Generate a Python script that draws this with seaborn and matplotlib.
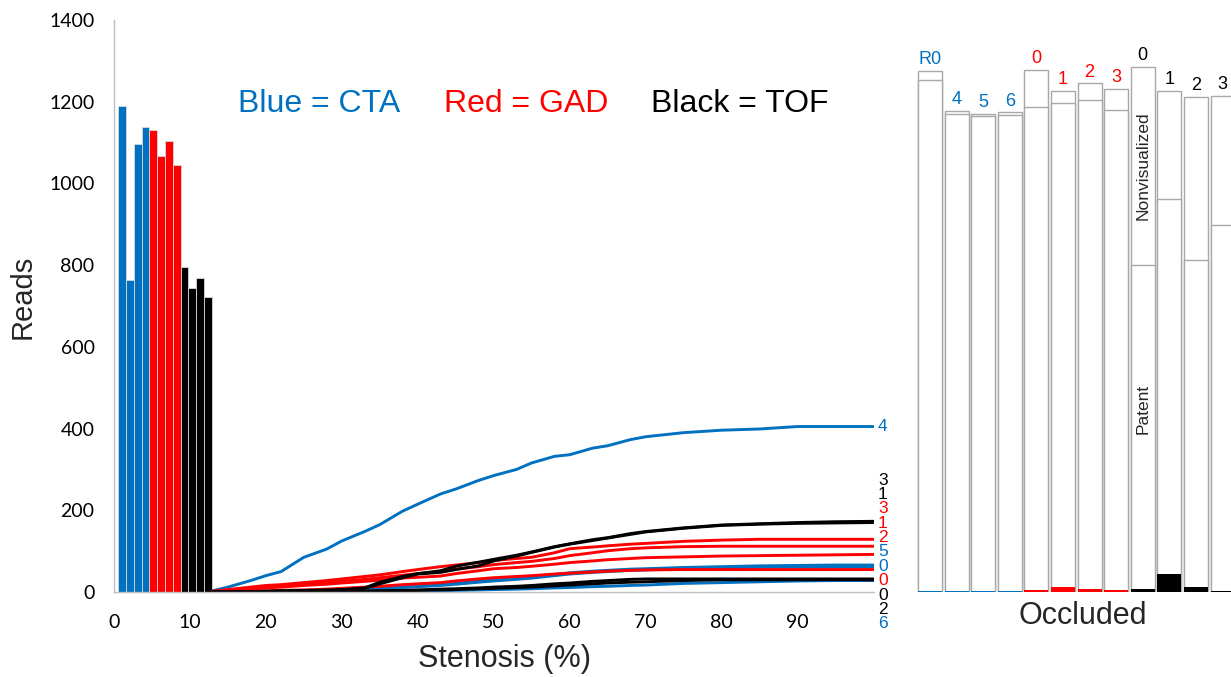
import numpy as np
import pandas as pd
import matplotlib
matplotlib.use("Agg")
import matplotlib.pyplot as plt
import seaborn as sns

# ---------------- data ----------------
BLUE, RED, BLACK = "#0070C0", "#FF0000", "#000000"
group_colors = {"CTA": BLUE, "GAD": RED, "TOF": BLACK}

bar_groups = ["CTA"] * 4 + ["GAD"] * 4 + ["TOF"] * 4
bar_reads = [1190, 764, 1096, 1138, 1130, 1068, 1103, 1046, 796, 744, 768, 721]

stenosis = [13, 15, 18, 20, 22, 25, 28, 30, 33, 35, 38, 40, 43, 45, 48, 50,
            53, 55, 58, 60, 63, 65, 68, 70, 75, 80, 85, 90, 95, 100]
cta4 = [3, 12, 28, 40, 50, 85, 105, 125, 148, 165, 198, 215, 240, 252, 273, 285,
        300, 316, 332, 336, 352, 358, 373, 380, 390, 396, 399, 405, 405, 405]
cta5 = [0, 0, 1, 1, 2, 3, 4, 5, 7, 9, 13, 16, 19, 22, 27, 30,
        34, 37, 43, 47, 51, 53, 56, 57, 60, 62, 64, 65, 66, 66]
cta0 = [0, 0, 0, 1, 1, 2, 3, 4, 6, 8, 11, 13, 16, 19, 24, 27,
        31, 34, 40, 44, 48, 50, 53, 54, 57, 59, 61, 62, 62, 62]
cta6 = [0, 0, 0, 0, 0, 0, 0, 1, 1, 1, 2, 2, 3, 4, 5, 6,
        7, 8, 10, 11, 13, 14, 16, 17, 21, 23, 25, 27, 28, 28]
gad3 = [2, 6, 12, 16, 18, 23, 28, 32, 38, 42, 50, 55, 62, 66, 72, 77,
        82, 85, 96, 106, 110, 113, 117, 119, 124, 127, 129, 129, 129, 129]
gad1 = [1, 4, 9, 12, 14, 19, 23, 26, 31, 35, 41, 45, 50, 56, 62, 67,
        72, 75, 82, 89, 96, 101, 106, 108, 111, 112, 112, 112, 112, 112]
gad2 = [1, 3, 7, 10, 12, 16, 19, 22, 26, 29, 34, 36, 39, 45, 52, 57,
        60, 63, 68, 72, 76, 79, 82, 84, 86, 88, 89, 90, 91, 92]
gad0 = [0, 1, 2, 3, 4, 5, 7, 9, 12, 14, 18, 20, 23, 27, 32, 35,
        38, 40, 44, 46, 49, 51, 53, 54, 55, 55, 55, 55, 55, 55]
tof3 = [0, 0, 1, 1, 2, 3, 4, 5, 10, 24, 38, 45, 52, 63, 73, 80,
        90, 98, 111, 118, 128, 133, 143, 148, 157, 164, 167, 170, 172, 173]
tof1 = [0, 0, 1, 2, 3, 4, 5, 6, 9, 20, 35, 44, 48, 55, 64, 76,
        88, 97, 110, 117, 126, 132, 141, 147, 156, 163, 166, 168, 169, 170]
tof0 = [0, 0, 0, 0, 1, 1, 1, 2, 2, 3, 4, 5, 7, 8, 10, 12,
        14, 16, 20, 22, 26, 28, 31, 32, 32, 32, 32, 32, 32, 32]
tof2 = [0, 0, 0, 0, 0, 1, 1, 1, 2, 2, 3, 4, 5, 6, 8, 9,
        11, 12, 15, 17, 20, 22, 24, 25, 28, 30, 30, 30, 30, 30]

# draw order (blue, red, black) with end labels
line_series = [("4", "CTA", cta4), ("5", "CTA", cta5), ("0", "CTA", cta0), ("6", "CTA", cta6),
               ("3", "GAD", gad3), ("1", "GAD", gad1), ("2", "GAD", gad2), ("0", "GAD", gad0),
               ("3", "TOF", tof3), ("1", "TOF", tof1), ("0", "TOF", tof0), ("2", "TOF", tof2)]
# stacked end-label order (below the "4" label)
stack_labels = [("3", "TOF"), ("1", "TOF"), ("3", "GAD"), ("1", "GAD"), ("2", "GAD"),
                ("5", "CTA"), ("0", "CTA"), ("0", "GAD"), ("0", "TOF"), ("2", "TOF"), ("6", "CTA")]

right_labels = ["R0", "4", "5", "6", "0", "1", "2", "3", "0", "1", "2", "3"]
right_groups = ["CTA"] * 4 + ["GAD"] * 4 + ["TOF"] * 4
right_total = [1275, 1177, 1170, 1174, 1278, 1227, 1245, 1231, 1285, 1227, 1211, 1215]
right_patent_top = [1253, 1171, 1165, 1168, 1187, 1197, 1204, 1179, 801, 961, 813, 898]
right_occluded = [3, 2, 2, 2, 4, 13, 7, 4, 7, 44, 13, 3]

x_ticks = list(range(0, 101, 10))
x_ticklabels = [str(v) for v in range(0, 91, 10)] + [""]
y_ticks = list(range(0, 1401, 200))

# ---------------- style ----------------
sns.set_theme(style="white")
plt.rcParams["font.family"] = ["Liberation Sans", "DejaVu Sans"]
W, H = 1231, 677
fig = plt.figure(figsize=(W / 100, H / 100), dpi=100)

AXC = "#bfbfbf"

# ---------------- left chart ----------------
ax = fig.add_axes([114 / W, 1 - 592 / H, 759.5 / W, 572 / H])
bar_pos = 1.03 * np.arange(1, len(bar_reads) + 1) + 0.02
bars_df = pd.DataFrame({"pos": bar_pos, "reads": bar_reads, "group": bar_groups})
sns.barplot(data=bars_df, x="pos", y="reads", hue="group", palette=group_colors,
            native_scale=True, width=1.0, dodge=False, legend=False, saturation=1,
            edgecolor="#d9d9d9", linewidth=0.6, ax=ax)

for name, grp, vals in line_series:
    sns.lineplot(x=stenosis, y=vals, color=group_colors[grp], linewidth=2.1, ax=ax)

ax.set_xlim(0, 100)
ax.set_ylim(0, 1400)
ax.set_xticks(x_ticks)
ax.set_xticklabels(x_ticklabels)
ax.set_yticks(y_ticks)
ax.set_yticklabels([str(v) for v in y_ticks])
for lab in ax.get_xticklabels() + ax.get_yticklabels():
    lab.set_fontfamily(["Lato", "DejaVu Sans"])
    lab.set_fontsize(14)
    lab.set_color("black")
ax.tick_params(axis="both", direction="out", length=5, width=1, color=AXC)
ax.tick_params(axis="x", pad=11)
ax.tick_params(axis="y", pad=9)
for s in ["top", "right"]:
    ax.spines[s].set_visible(False)
for s in ["left", "bottom"]:
    ax.spines[s].set_color(AXC)
    ax.spines[s].set_linewidth(1)
ax.grid(False)

ax.set_xlabel("Stenosis (%)", fontsize=22)
ax.xaxis.set_label_coords((505 - 114) / 759.5, (592 - 644) / 572)
ax.set_ylabel("Reads", fontsize=21)
ax.yaxis.set_label_coords((37 - 114) / 759.5, (592 - 297) / 572)

# end labels of lines
LFS = 12.5
ax.text(100.6, cta4[-1], "4", color=BLUE, fontsize=LFS, ha="left", va="center", clip_on=False)
label_top, label_step = 274, 35.2
for k, (name, grp) in enumerate(stack_labels):
    ax.text(100.6, label_top - label_step * k, name, color=group_colors[grp],
            fontsize=LFS, ha="left", va="center", clip_on=False)

# color key
base_y = 1 - 112 / H
fig.text(238 / W, base_y, "Blue = CTA", color=BLUE, fontsize=23, va="baseline")
fig.text(444 / W, base_y, "Red = GAD", color=RED, fontsize=23, va="baseline")
fig.text(651 / W, base_y, "Black = TOF", color=BLACK, fontsize=23, va="baseline")

# ---------------- right chart ----------------
axr = fig.add_axes([905 / W, 1 - 592 / H, (W - 905) / W, 572 / H])
idx = list(range(len(right_labels)))
EDGE = "#a8a8a8"
sns.barplot(x=idx, y=right_total, color="white", edgecolor=EDGE, linewidth=1.0,
            width=0.9, ax=axr, saturation=1)
sns.barplot(x=idx, y=right_patent_top, color="white", edgecolor=EDGE, linewidth=1.0,
            width=0.9, ax=axr, saturation=1)
sns.barplot(x=idx, y=right_occluded, hue=right_groups, palette=group_colors,
            width=0.9, linewidth=0, legend=False, ax=axr, saturation=1)
axr.set_xlim(-0.94, 11.32)
axr.set_ylim(0, 1400)
axr.axis("off")
for i, (lab, grp, tot) in enumerate(zip(right_labels, right_groups, right_total)):
    axr.annotate(lab, (i, tot), xytext=(0, 2), textcoords="offset points",
                 ha="center", va="bottom", fontsize=13, color=group_colors[grp],
                 annotation_clip=False)
axr.text(8, 1043, "Nonvisualized", rotation=90, ha="center", va="center", fontsize=12.5)
axr.text(8, 447, "Patent", rotation=90, ha="center", va="center", fontsize=12.5)
fig.text(1083 / W, 1 - 616 / H, "Occluded", fontsize=22, ha="center", va="center")

fig.savefig("out.png", dpi=100)
